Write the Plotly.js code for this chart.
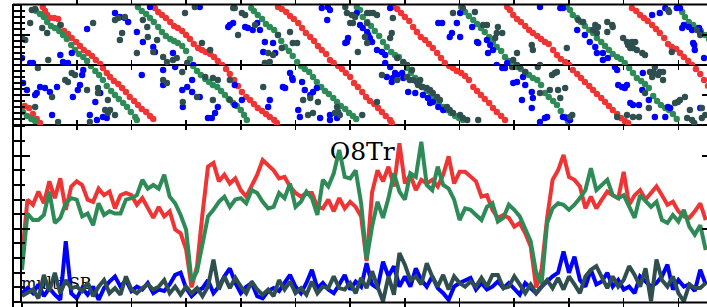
<!DOCTYPE html>
<html>
<head>
<meta charset="utf-8">
<script src="https://cdn.plot.ly/plotly-3.0.1.min.js"></script>
<style>
html,body{margin:0;padding:0;background:#fff;overflow:hidden;}
#chart{width:720px;height:307px;}
</style>
</head>
<body>
<div id="chart"></div>
<script>
// ---------- bottom panel: time series (frame index) ----------
const frames = [0,1,2,3,4,5,6,7,8,9,10,11,12,13,14,15,16,17,18,19,20,21,22,23,24,25,26,27,28,29,30,31,32,33,34,35,36,37,38,39,40,41,42,43,44,45,46,47,48,49,50,51,52,53,54,55,56,57,58,59,60,61,62,63,64,65,66,67,68,69,70,71,72,73,74,75,76,77,78,79,80,81,82,83,84,85,86,87,88,89,90,91,92,93,94,95,96,97,98,99,100,101,102,103,104,105,106,107,108,109,110,111,112,113,114,115,116,117,118,119,120,121,122,123,124,125];

const redSeries = [0.62,1.40,1.33,1.51,1.35,1.65,1.42,1.69,1.26,1.58, 1.65,1.60,1.40,1.37,1.55,1.46,1.51,1.28,1.46,1.49, 1.46,1.33,1.42,1.28,1.15,1.30,1.17,1.24,0.99,0.94, 0.72,0.20,0.49,1.21,1.85,1.90,1.65,1.74,1.62,1.69,
 1.53,1.44,1.60,1.74,1.94,1.87,1.80,1.69,1.71,1.58, 1.49,1.44,1.49,1.49,1.30,1.28,1.40,1.24,1.42,1.28, 1.37,1.30,1.17,0.56,1.50,1.80,1.65,1.85,1.58,2.17, 1.62,1.74,1.53,1.67,1.62,1.67,1.58,1.74,1.99,1.62, 1.78,
 1.78,1.71,1.65,1.44,1.46,1.26,1.15,1.19,1.15,1.03, 1.08,0.94,0.76,0.20,0.45,1.15,1.67,1.80,2.01,1.71, 1.67,1.58,1.28,1.44,1.28,1.40,1.51,1.46,1.42,1.78, 1.33,1.46,1.53,1.40,1.49,1.58,1.46,1.33,1.37,1.24, 1.17,1.15,1.24,1.35,1.12];

const greenSeries = [0.44,1.21,1.12,1.12,1.19,1.51,1.08,1.15,1.35,1.42, 1.40,1.17,1.21,1.05,1.35,1.19,1.24,1.21,1.21,1.40, 1.42,1.46,1.67,1.55,1.60,1.55,1.74,1.44,1.35,1.19, 0.99,0.28,0.42,0.80,1.17,1.26,1.37,1.44,1.30,1.40,
 1.42,1.35,1.53,1.49,1.37,1.28,1.30,1.49,1.42,1.62, 1.30,1.37,1.51,1.42,1.19,1.67,1.58,1.76,2.08,1.71, 1.69,1.80,1.35,0.58,1.03,1.37,1.15,1.42,1.76,1.51, 1.40,1.76,1.71,2.19,1.60,1.53,1.85,1.60,1.55,1.40, 1.12,
 1.28,1.26,1.19,1.12,1.30,1.35,1.10,1.15,1.33,1.26, 1.17,0.99,0.83,0.40,0.25,1.08,1.28,1.35,1.33,1.26, 1.33,1.42,1.53,1.83,1.53,1.60,1.67,1.46,1.42,1.46, 1.30,1.15,1.46,1.37,1.30,1.37,1.12,1.08,1.19,1.10, 1.26,1.03,0.92,1.05,0.71];

const blueSeries = [0.12,0.19,0.12,0.24,0.08,0.19,0.10,0.03,0.83,0.12, 0.05,0.19,0.10,0.21,0.03,0.19,0.28,0.35,0.21,0.30, 0.15,0.21,0.17,0.26,0.12,0.17,0.15,0.24,0.37,0.40, 0.19,0.08,0.15,0.19,0.30,0.12,0.21,0.35,0.46,0.26,
 0.12,0.21,0.26,0.08,0.05,0.15,0.19,0.15,0.26,0.37, 0.21,0.12,0.26,0.44,0.19,0.26,0.17,0.12,0.24,0.37, 0.17,0.28,0.21,0.53,0.24,0.19,0.55,0.35,0.49,0.21, 0.35,0.21,0.46,0.30,0.21,0.35,0.19,0.12,0.03,0.21, 0.26,
 0.30,0.33,0.17,0.26,0.17,0.21,0.28,0.19,0.26,0.17, 0.10,0.26,0.19,0.12,0.21,0.28,0.35,0.40,0.69,0.40, 0.62,0.30,0.21,0.44,0.24,0.28,0.40,0.21,0.30,0.17, 0.21,0.12,0.35,0.28,0.21,0.26,0.35,0.51,0.17,0.30, 0.21,0.24,0.15,0.44,0.24];

const slateSeries = [0.08,0.12,0.17,0.05,0.37,0.15,0.40,0.12,0.30,0.19, 0.21,0.15,0.26,0.08,0.21,0.30,0.12,0.19,0.10,0.35, 0.17,0.12,0.19,0.24,0.17,0.21,0.30,0.12,0.21,0.10, 0.21,0.12,0.19,0.08,0.21,0.58,0.17,0.35,0.19,0.33,
 0.21,0.12,0.28,0.17,0.10,0.17,0.08,0.30,0.17,0.28, 0.12,0.19,0.10,0.28,0.12,0.21,0.19,0.35,0.19,0.17, 0.26,0.12,0.33,0.19,0.42,0.21,0.01,0.35,0.10,0.67, 0.51,0.30,0.35,0.24,0.53,0.35,0.21,0.37,0.17,0.35, 0.26,
 0.21,0.28,0.21,0.33,0.21,0.37,0.37,0.19,0.21,0.35, 0.24,0.12,0.24,0.12,0.21,0.30,0.19,0.33,0.17,0.35, 0.24,0.12,0.35,0.44,0.49,0.33,0.19,0.35,0.21,0.30, 0.49,0.37,0.21,0.46,0.01,0.58,0.30,0.21,0.35,0.12, 0.01,0.24,0.19,0.19,0.26];

// ---------- top panel: phase dots (x in frames, phase 0..120, split in two rows) ----------
const redDotsX = [-0.2,0.5,1.3,2.0,2.7,3.3,
 3.8,4.2,4.6,5.1,5.9,6.6,7.1,7.7,8.4,9.1,9.9,10.6,11.3,12.1,12.8,13.5,14.3,14.8,15.5,16.1,16.8,17.6,18.3,19.0,19.7,20.5,21.2,21.9,22.7,23.4,24.0,
 24.3,24.9,25.6,26.3,27.1,27.8,28.5,29.3,30.0,30.7,31.4,32.2,32.9,33.6,34.4,35.1,35.8,36.6,37.3,38.0,38.8,39.5,40.2,41.0,41.7,42.4,43.1,43.9,44.6,45.3,46.1,46.6,
 46.8,47.5,48.3,49.0,49.7,50.5,51.2,51.9,52.7,53.4,54.1,54.8,55.6,56.3,57.0,57.8,58.5,59.2,60.0,60.7,61.4,62.2,62.9,63.6,64.4,65.1,65.8,66.5,67.3,67.6,
 67.8,68.6,69.3,70.0,70.8,71.5,72.2,72.9,73.7,74.4,75.1,75.9,76.6,77.3,78.1,78.8,79.5,80.3,81.0,81.7,82.5,83.2,83.9,84.6,85.4,86.1,86.8,87.6,88.3,
 88.7,89.2,89.8,90.5,91.2,92.0,92.7,93.4,94.2,94.9,95.6,96.3,97.1,97.8,98.5,99.3,100.0,100.7,101.5,102.2,102.9,103.7,104.4,105.1,105.9,106.6,107.3,108.0,108.8,109.5,110.2,110.8,
 111.5,112.3,113.0,113.7,114.4,115.2,115.9,116.6,117.4,118.1,118.8,119.6,120.3,121.0,121.8,122.5,123.2,124.0,124.7,125.4,126.1];
const redDotsY = [17,19,17,11,6,2,
 118,114,110,107,107,106,100,94,91,87,83,79,75,72,69,65,61,57,52,48,44,41,37,33,28,24,20,16,13,9,6,
 117,113,110,107,103,99,97,94,90,86,81,77,75,73,71,68,64,60,56,51,45,39,33,28,25,21,17,14,11,8,5,2,
 118,116,113,109,106,102,97,92,88,84,79,75,71,65,62,59,56,52,48,42,38,33,28,24,21,17,13,9,5,2,
 118,116,112,108,104,98,93,88,85,81,77,72,67,62,59,57,54,52,49,45,38,34,30,26,22,17,13,9,5,
 118,115,110,106,103,99,95,92,89,86,83,81,75,70,66,63,60,55,51,47,43,39,35,31,27,23,19,15,11,7,4,2,
 117,114,110,107,104,100,96,92,87,81,78,76,72,68,64,60,56,51,45,39,33];

const greenDotsX = [-0.4,0.2,0.9,1.7,2.4,
 2.6,3.3,4.0,4.6,5.3,6.0,6.8,7.5,8.2,9.0,9.7,10.4,11.2,11.9,12.6,13.4,14.1,14.8,15.5,16.3,17.0,17.7,18.5,19.2,19.9,20.7,21.0,
 21.2,21.9,22.7,23.4,24.1,24.9,25.6,26.3,27.1,27.8,28.5,29.3,30.0,30.7,31.3,32.0,32.7,33.5,34.2,34.9,35.7,36.4,37.1,37.8,38.6,39.3,40.0,40.6,41.1,
 41.9,42.4,43.1,43.9,44.6,45.3,46.1,46.8,47.4,48.1,48.8,49.5,50.3,51.0,51.7,52.5,53.2,53.9,54.7,55.4,56.1,56.9,57.6,58.3,59.1,59.8,60.5,61.1,
 61.2,61.8,62.3,63.1,63.8,64.5,65.3,66.0,66.7,67.5,68.2,68.9,69.7,70.4,71.1,71.9,72.6,73.3,74.0,74.8,75.5,76.2,77.0,77.7,78.4,79.2,79.9,80.6,
 80.3,81.0,81.7,82.5,83.2,83.9,84.6,85.4,86.1,86.8,87.6,88.3,89.0,89.8,90.5,91.2,92.0,92.7,93.4,94.2,94.9,95.6,96.3,97.1,97.8,98.5,99.3,99.8,
 99.6,100.2,100.7,101.5,102.2,102.9,103.7,104.4,105.1,105.9,106.6,107.3,108.0,108.8,109.5,110.2,111.0,111.7,112.4,113.2,113.9,114.6,115.4,116.1,116.8,117.6,118.3,119.0,119.7,
 120.1,120.7,121.2,121.9,122.7,123.4,124.1,124.9,125.6];
const greenDotsY = [15,13,9,6,4,
 114,111,108,103,99,97,94,90,86,80,75,71,68,64,59,54,50,45,39,34,30,26,22,18,13,8,5,
 118,114,111,107,103,98,93,89,86,84,82,79,74,66,59,54,50,46,43,40,38,34,30,26,22,19,15,10,5,
 117,114,110,106,101,98,95,90,84,78,74,69,63,59,56,53,48,43,38,34,31,27,23,19,16,12,9,6,
 118,115,108,103,99,94,89,83,78,73,70,68,62,57,52,47,42,38,34,29,25,21,18,15,12,9,7,5,
 118,113,109,105,101,97,93,88,83,78,74,68,64,61,58,56,53,50,47,45,40,32,28,24,20,14,8,4,
 118,115,110,107,103,99,95,92,87,83,79,75,71,68,66,62,57,52,47,44,41,37,29,24,20,17,15,11,6,
 118,113,108,103,100,97,94,90,86];

const blueDots = [[11.9,96],[17.0,112],[17.9,108],[18.8,107],[19.4,103],[21.0,93],[22.1,83],[24.0,78],[24.3,73],[27.6,72],
 [7.0,70],[9.1,72],[0.0,67],[1.5,62],[2.0,62],[7.5,63],[8.4,62],[31.3,60],[11.2,55],[11.0,50],
 [21.9,50],[25.8,55],[28.0,58],[0.2,42],[0.9,35],[3.3,38],[4.2,37],[5.1,33],[2.7,32],[2.4,30],
 [6.4,38],[10.6,40],[10.2,35],[9.3,28],[14.3,32],[13.4,23],[29.3,35],[31.1,45],[30.2,38],[31.1,33],
 [29.4,18],[32.5,28],[35.8,18],[35.3,12],[5.5,10],[12.4,10],[14.8,8],[15.5,7],[13.7,5],[34.0,7],
 [34.7,7],[25.8,40],[32.5,118],[23.4,118],[38.0,100],[37.7,98],
 [38.6,102],[40.8,98],[41.3,97],[42.2,95],[43.0,102],[43.5,95],[44.4,83],[45.9,82],[44.1,73],[46.3,72],
 [55.8,105],[54.8,117],[56.3,115],[59.6,87],[59.4,83],[59.1,82],[61.2,112],[61.8,100],[62.3,97],[63.1,93],
 [63.3,90],[63.6,87],[64.0,83],[64.9,75],[65.8,73],[66.4,70],[66.4,62],[67.3,58],[68.2,52],[67.8,47],
 [67.6,43],[68.6,50],[69.5,52],[69.7,47],[70.6,33],[71.9,32],[73.3,30],[74.2,27],[75.1,23],[74.6,22],
 [76.1,18],[77.0,15],[76.8,102],[76.1,102],[79.5,102],[78.6,92],[78.2,88],[80.1,88],[80.1,112],[38.9,40],
 [40.2,25],[38.9,20],[45.3,25],[45.0,18],[47.7,38],[48.1,37],[49.0,52],[49.4,47],[49.5,45],[51.2,43],
 [51.7,35],[52.7,30],[53.2,33],[53.9,37],[50.5,15],[50.8,8],[54.5,7],[56.3,10],[57.6,7],[56.3,5],
 [66.7,48],[67.3,117],[55.9,118],
 [94.7,118],[98.4,117],[98.9,117],[101.5,95],[102.9,90],[103.8,83],[104.8,78],[105.1,72],[106.2,72],[106.2,65],
 [107.1,67],[108.4,58],[108.8,55],[83.2,83],[83.4,82],[85.0,85],[85.6,80],[86.1,75],[85.2,72],[86.8,60],
 [87.8,57],[88.3,57],[88.7,62],[113.5,52],[115.2,110],[116.6,112],[117.6,117],[120.3,117],[120.7,97],[122.5,95],
 [122.7,82],[123.0,75],[124.0,92],[89.8,42],[90.5,43],[91.6,48],[92.0,40],[91.4,25],[93.2,33],[93.4,27],
 [93.2,17],[96.0,8],[94.7,3],[95.6,7],[98.9,8],[99.6,7],[100.2,5],[109.0,40],[109.7,38],[110.2,37],
 [110.6,40],[111.2,22],[111.7,20],[113.4,35],[115.7,8],[118.1,18],[118.5,17],[124.0,17],[82.3,98],
 [121.0,100],[121.9,98],[122.9,80],[123.8,97],[124.7,67],[115.5,52],[112.8,20],[114.6,25],[117.6,8],[119.7,117]];

const slateDots = [[1.8,115],[2.4,116],[1.5,102],[3.7,97],[4.6,92],[7.0,100],[13.0,102],[17.0,105],[17.6,107],[18.8,108],
 [18.3,92],[17.9,85],[21.0,72],[22.9,98],[23.0,88],[22.1,105],[24.7,85],[24.0,73],[25.8,68],[26.5,63],
 [27.6,65],[28.3,67],[29.3,53],[30.2,62],[29.8,112],[31.6,118],[32.9,82],[34.4,75],[33.5,48],[34.9,47],
 [35.8,45],[38.0,45],[39.5,90],[38.6,117],[0.0,87],[0.6,85],[2.9,57],[4.8,65],[7.9,45],[8.4,43],
 [9.1,52],[9.7,50],[11.9,35],[13.9,37],[13.9,32],[5.5,28],[2.4,18],[15.7,25],[15.2,15],[16.1,15],
 [15.7,12],[17.0,10],[12.4,3],[6.6,3],[25.8,45],[26.5,42],[29.4,23],[32.0,28],[34.9,25],[38.0,25],
 [38.9,117],[40.2,112],[40.8,110],[42.6,100],[45.0,72],[45.9,70],[44.4,62],[45.3,63],[46.8,90],[47.5,77],
 [49.0,93],[49.5,82],[50.3,82],[59.1,118],[59.4,112],[60.3,110],[60.9,108],[60.0,102],[60.5,102],[61.4,73],
 [63.1,112],[63.6,112],[64.2,112],[64.9,110],[63.1,102],[62.7,88],[63.1,82],[67.6,92],[67.3,87],[67.8,107],
 [68.6,67],[69.7,63],[70.4,60],[71.3,55],[70.9,45],[71.5,45],[72.2,43],[72.4,40],[73.1,38],[74.0,37],
 [72.8,45],[74.6,35],[75.1,32],[75.9,28],[76.4,25],[77.7,18],[78.2,15],[78.8,12],[80.1,10],[80.6,7],
 [81.4,5],[78.8,112],[80.6,117],[44.1,38],[51.4,25],[52.7,27],[54.1,23],[52.3,10],[53.2,12],[57.6,18],
 [57.8,13],[57.2,12],[58.1,10],[62.2,10],[64.9,23],[65.8,50],[68.6,45],[70.4,48],
 [82.8,113],[84.3,100],[85.0,100],[87.0,98],[86.8,92],[87.8,92],[86.5,87],[93.2,80],[93.4,75],[90.5,72],
 [89.8,65],[89.6,58],[90.5,60],[91.0,58],[92.0,53],[94.3,58],[94.7,60],[96.9,50],[97.4,52],[97.8,53],
 [96.5,35],[98.0,35],[99.3,37],[94.7,32],[98.4,27],[99.6,77],[100.6,10],[100.2,8],[101.7,105],[102.6,103],
 [104.8,100],[105.3,98],[107.0,103],[107.9,100],[108.0,98],[104.4,95],[105.1,92],[107.0,93],[109.9,87],[110.6,83],
 [110.8,80],[111.2,77],[111.7,77],[113.4,72],[113.9,70],[118.1,115],[118.8,73],[114.8,53],[115.4,53],[116.3,50],
 [116.6,53],[117.2,53],[115.2,48],[117.2,45],[120.3,25],[119.9,23],[122.1,15],[121.6,7],[122.5,5],[124.3,7],
 [124.9,10],[108.8,8],[110.6,10],[111.7,8],[83.4,5],[113.9,32],
 [111.5,83],[112.1,83],[112.4,75],[118.3,113],[123.4,95],[124.0,90],[115.7,58],[114.6,17],[112.8,8],[119.4,22],
 [121.2,28],[122.9,2],[124.3,17]];

const labels = ['O8Tr', 'multi-SB'];

// ---------- build traces ----------
const RED = '#EF3434', GREEN = '#2E8B57', BLUE = '#0000FF', SLATE = '#2F4F4F';
const SPLIT = 60;

function rowTraces(xs, ys, color) {
  const top = {x: [], y: []}, bot = {x: [], y: []};
  xs.forEach((x, k) => {
    const t = ys[k] >= SPLIT ? top : bot;
    t.x.push(x); t.y.push(ys[k]);
  });
  const m = {size: 6.4, color: color, line: {width: 0}};
  return [
    {type: 'scatter', mode: 'markers', x: top.x, y: top.y, xaxis: 'x', yaxis: 'y3', marker: m, hoverinfo: 'skip'},
    {type: 'scatter', mode: 'markers', x: bot.x, y: bot.y, xaxis: 'x', yaxis: 'y2', marker: m, hoverinfo: 'skip'}
  ];
}
// empty helper traces so that the tick-only overlay axes get drawn
const axisHolder = (xa, ya) => ({type: 'scatter', mode: 'markers', x: [], y: [], xaxis: xa, yaxis: ya, hoverinfo: 'skip', showlegend: false});

const traces = [
  {type: 'scatter', mode: 'text', x: [62.2], y: [2.03], text: [labels[0]], textposition: 'middle center',
   textfont: {family: 'DejaVu Serif, serif', size: 25, color: '#000'}, xaxis: 'x', yaxis: 'y', cliponaxis: false, hoverinfo: 'skip'},
  {type: 'scatter', mode: 'text', x: [6.3], y: [0.23], text: [labels[1]], textposition: 'middle center',
   textfont: {family: 'DejaVu Serif, serif', size: 16, color: '#000'}, xaxis: 'x', yaxis: 'y', cliponaxis: false, hoverinfo: 'skip'},
  {type: 'scatter', mode: 'lines', x: frames, y: redSeries, line: {color: RED, width: 4}, xaxis: 'x', yaxis: 'y', hoverinfo: 'skip'},
  {type: 'scatter', mode: 'lines', x: frames, y: greenSeries, line: {color: GREEN, width: 4}, xaxis: 'x', yaxis: 'y', hoverinfo: 'skip'},
  {type: 'scatter', mode: 'lines', x: frames, y: blueSeries, line: {color: BLUE, width: 4}, xaxis: 'x', yaxis: 'y', hoverinfo: 'skip'},
  {type: 'scatter', mode: 'lines', x: frames, y: slateSeries, line: {color: SLATE, width: 4}, xaxis: 'x', yaxis: 'y', hoverinfo: 'skip'},
  ...rowTraces(redDotsX, redDotsY, RED),
  ...rowTraces(greenDotsX, greenDotsY, GREEN),
  ...rowTraces(blueDots.map(p => p[0]), blueDots.map(p => p[1]), BLUE),
  ...rowTraces(slateDots.map(p => p[0]), slateDots.map(p => p[1]), SLATE),
  axisHolder('x', 'y4'), axisHolder('x', 'y5'), axisHolder('x', 'y6'), axisHolder('x2', 'y')
];

// ---------- layout ----------
const XR = [0, 125.78];
const TOPD = 6;
const common = {showticklabels: false, showgrid: false, zeroline: false, fixedrange: true, tickcolor: '#000', tickwidth: 1.6};
const inY = (range, d1, t0, minorD) => Object.assign({}, common, {
  range: range, tickmode: 'linear', dtick: d1, tick0: t0, ticks: 'inside', ticklen: 8, tickwidth: 2,
  minor: {dtick: minorD, tick0: 0, ticks: 'inside', ticklen: 3, tickwidth: 2, tickcolor: '#000', showgrid: false},
  showline: true, linewidth: 2, linecolor: '#000', mirror: 'ticks', anchor: 'x'
});
const outY = (over, range, d) => Object.assign({}, common, {
  overlaying: over, anchor: 'x', side: 'left', range: range, tickmode: 'linear', dtick: d, tick0: 0,
  ticks: 'outside', ticklen: 9, tickwidth: 2, showline: false
});

const layout = {
  width: 720, height: 307,
  margin: {l: 22, r: 10, t: 5, b: 5, pad: 0},
  paper_bgcolor: '#fff', plot_bgcolor: 'rgba(0,0,0,0)',
  showlegend: false,
  xaxis: Object.assign({}, common, {range: XR, tickmode: 'linear', dtick: 10, tick0: 0, ticks: 'inside', ticklen: 4,
    showline: true, linewidth: 1, linecolor: '#000', mirror: 'allticks', anchor: 'y'}),
  xaxis2: Object.assign({}, common, {overlaying: 'x', anchor: 'y', range: XR, tickmode: 'linear', dtick: 10, tick0: 0,
    ticks: 'outside', ticklen: 5, showline: false}),
  yaxis: Object.assign(inY([0, 2.42], 1, 0, 0.2), {domain: [0, 0.596]}),
  yaxis2: Object.assign(inY([0, 60], 60, 30, TOPD), {domain: [0.596, 0.798]}),
  yaxis3: Object.assign(inY([60, 120], 60, 90, TOPD), {domain: [0.798, 1]}),
  yaxis4: outY('y', [0, 2.42], 0.2),
  yaxis5: outY('y2', [0, 60], TOPD),
  yaxis6: outY('y3', [60, 120], TOPD),
  shapes: [
    {type: 'line', xref: 'paper', yref: 'paper', x0: -9 / 688, x1: -9 / 688, y0: -5 / 297, y1: 1.003, line: {color: '#000', width: 2}},
    {type: 'line', xref: 'paper', yref: 'paper', x0: -9 / 688, x1: 1, y0: 1.002, y1: 1.002, line: {color: '#000', width: 2}},
    {type: 'line', xref: 'paper', yref: 'paper', x0: 0, x1: 1, y0: -0.002, y1: -0.002, line: {color: '#000', width: 2}}
  ]
};

Plotly.newPlot('chart', traces, layout, {displayModeBar: false, staticPlot: true});
</script>
</body>
</html>
